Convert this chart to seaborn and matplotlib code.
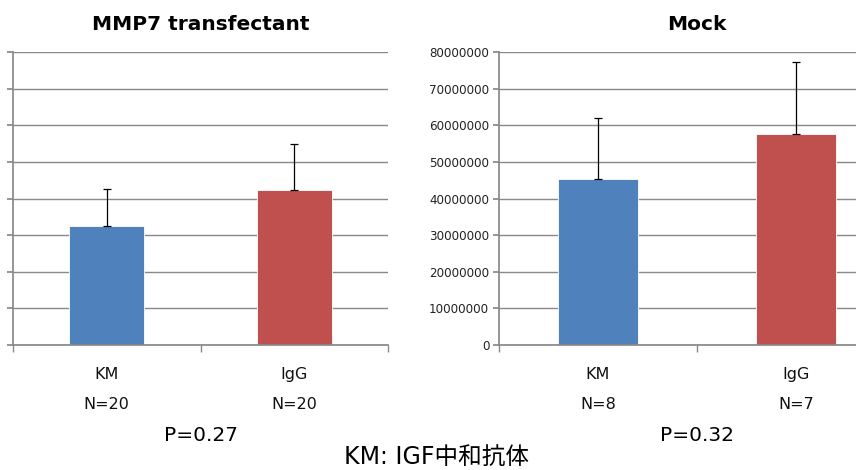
import numpy as np
import matplotlib
matplotlib.use('Agg')
import matplotlib.pyplot as plt
import seaborn as sns

# data
groups = ['KM', 'IgG']
n_mmp7 = ['N=20', 'N=20']
n_mock = ['N=8', 'N=7']
mmp7_means = [32400000, 42200000]
mmp7_err = [10200000, 12600000]
mock_means = [45300000, 57500000]
mock_err = [16600000, 19900000]
colors = ['#4F81BD', '#C0504D']

sns.set_theme(style='white')
plt.rcParams['font.family'] = ['DejaVu Sans', 'Noto Sans CJK JP']

fig = plt.figure(figsize=(8.56, 4.70), dpi=100)
W, H = 856, 470


def make_axes(x0, x1, y_top, y_bot):
    return fig.add_axes([x0 / W, 1 - y_bot / H, (x1 - x0) / W, (y_bot - y_top) / H])


ax1 = make_axes(13, 388, 52, 345)
ax2 = make_axes(499, 895, 52, 345)

grid_c = '#898989'

for ax, means, errs, ns, title, pval, show_y in [
    (ax1, mmp7_means, mmp7_err, n_mmp7, 'MMP7 transfectant', 'P=0.27', False),
    (ax2, mock_means, mock_err, n_mock, 'Mock', 'P=0.32', True),
]:
    sns.barplot(x=groups, y=means, hue=groups, palette=colors, width=0.4,
                legend=False, ax=ax, saturation=1, edgecolor='white', linewidth=0.6)
    ax.errorbar(range(len(groups)), means, yerr=[np.zeros(len(errs)), errs],
                fmt='none', ecolor='black', elinewidth=0.9, capsize=3, capthick=0.9)
    ax.set_xlim(-0.5, 1.5)
    ax.set_ylim(0, 80000000)
    ax.set_yticks(np.arange(0, 80000001, 10000000))
    ax.yaxis.grid(True, color=grid_c, linewidth=1)
    ax.set_axisbelow(True)
    for s in ['top', 'right']:
        ax.spines[s].set_visible(False)
    ax.spines['left'].set_color(grid_c)
    ax.spines['bottom'].set_color(grid_c)
    ax.tick_params(axis='y', which='major', left=True, length=4, color=grid_c,
                   labelsize=8.6, labelcolor='#222222', pad=3)
    if show_y:
        ax.set_yticklabels([str(v) for v in range(0, 80000001, 10000000)])
    else:
        ax.set_yticklabels([])
    # category labels with N, boundary ticks as minor ticks
    ax.set_xticks([0, 1])
    ax.set_xticklabels([f'{g}\n{n}' for g, n in zip(groups, ns)], fontsize=11.5,
                       linespacing=2.25, color='#111111')
    ax.tick_params(axis='x', which='major', length=0, pad=16)
    ax.set_xticks([-0.5, 0.5, 1.5], minor=True)
    ax.tick_params(axis='x', which='minor', bottom=True, length=5, color=grid_c)
    ax.set_xlabel('')
    ax.set_ylabel('')
    ax.text(0.5, 1.095, title, transform=ax.transAxes, ha='center', va='center',
            fontsize=14.5, fontweight='bold', color='black')
    ax.text(0.5, -0.31, pval, transform=ax.transAxes, ha='center', va='center',
            fontsize=14.5, color='black')

fig.text(436 / W, 1 - 457 / H, 'KM: IGF中和抗体', ha='center', va='center',
         fontsize=17, color='black')

fig.savefig('out.png', dpi=100)
